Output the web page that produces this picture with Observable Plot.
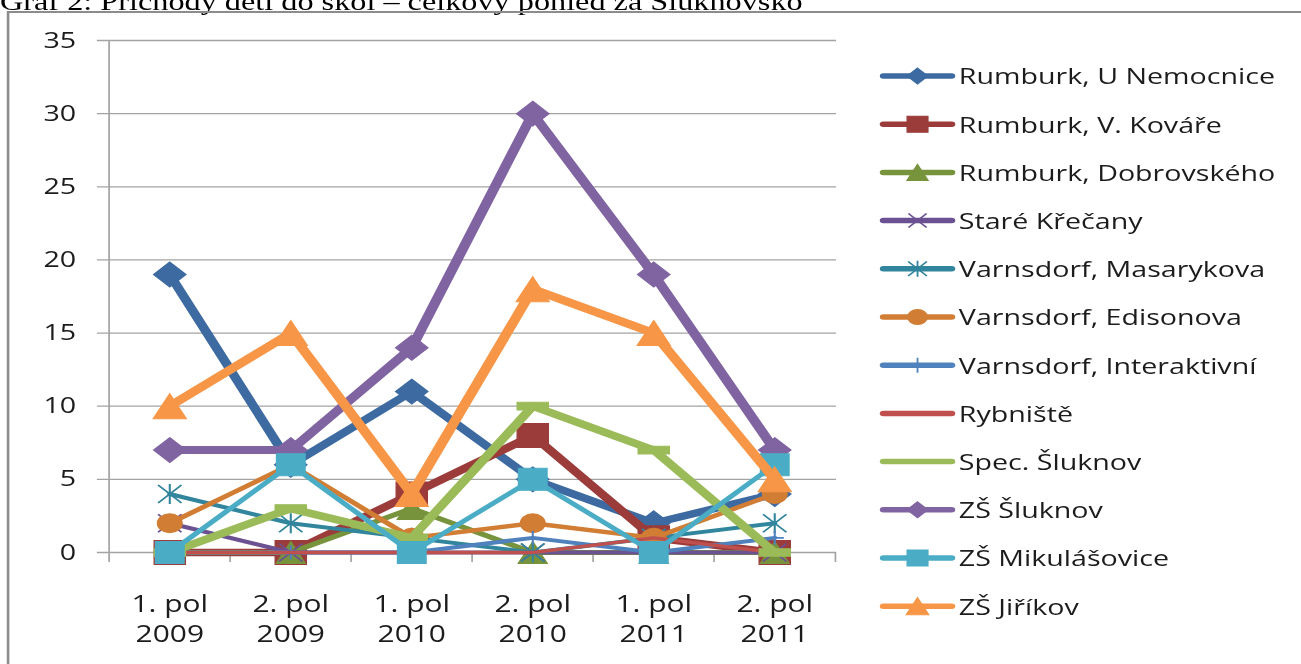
<!DOCTYPE html>
<html>
<head>
<meta charset="utf-8">
<script src="https://cdn.jsdelivr.net/npm/d3@7"></script>
<script src="https://cdn.jsdelivr.net/npm/@observablehq/plot@0.6"></script>
<style>
  html, body { margin: 0; padding: 0; background: #fff; width: 1301px; height: 664px; overflow: hidden; }
  #stage { position: absolute; left: 0; top: 0; width: 1000px; height: 664px; transform: scaleX(1.301); transform-origin: 0 0; }
  #stage > svg { position: absolute; left: 0; top: 0; }
</style>
</head>
<body>
<div id="stage"></div>
<script>
// ---------- data ----------
const periods = ["1. pol 2009", "2. pol 2009", "1. pol 2010", "2. pol 2010", "1. pol 2011", "2. pol 2011"];
const yTicks = [0, 5, 10, 15, 20, 25, 30, 35];
const seriesNames = ["Rumburk, U Nemocnice", "Rumburk, V. Kováře", "Rumburk, Dobrovského", "Staré Křečany",
  "Varnsdorf, Masarykova", "Varnsdorf, Edisonova", "Varnsdorf, Interaktivní", "Rybniště",
  "Spec. Šluknov", "ZŠ Šluknov", "ZŠ Mikulášovice", "ZŠ Jiříkov"];
const rumburkUNemocnice = [19, 6, 11, 5, 2, 4];
const rumburkVKovare = [0, 0, 4, 8, 1, 0];
const rumburkDobrovskeho = [0, 0, 3, 0, 0, 0];
const stareKrecany = [2, 0, 0, 0, 0, 0];
const varnsdorfMasarykova = [4, 2, 1, 0, 1, 2];
const varnsdorfEdisonova = [2, 6, 1, 2, 1, 4];
const varnsdorfInteraktivni = [0, 0, 0, 1, 0, 1];
const rybniste = [0, 0, 0, 0, 1, 0];
const specSluknov = [0, 3, 1, 10, 7, 0];
const zsSluknov = [7, 7, 14, 30, 19, 7];
const zsMikulasovice = [0, 6, 0, 5, 0, 6];
const zsJirikov = [10, 15, 4, 18, 15, 5];
const titleText = "Graf 2: Příchody dětí do škol – celkový pohled za Šluknovsko";

// ---------- styles ----------
const rOf = size => Math.sqrt(size / Math.PI);
const symDiamond = {draw(c, s) { const r = rOf(s); c.moveTo(0, -r); c.lineTo(r, 0); c.lineTo(0, r); c.lineTo(-r, 0); c.closePath(); }};
const symSquare = {draw(c, s) { const r = rOf(s); c.rect(-r, -r, 2 * r, 2 * r); }};
const symTriangle = {draw(c, s) { const r = rOf(s); c.moveTo(0, -r); c.lineTo(r * 1.02, r); c.lineTo(-r * 1.02, r); c.closePath(); }};
const symCircle = {draw(c, s) { const r = rOf(s); c.moveTo(r, 0); c.arc(0, 0, r, 0, 2 * Math.PI); }};
const symTimes = {draw(c, s) { const r = rOf(s); c.moveTo(-r, -r); c.lineTo(r, r); c.moveTo(-r, r); c.lineTo(r, -r); }};
const symStar = {draw(c, s) { const r = rOf(s), a = r * 0.9; c.moveTo(-a, -a); c.lineTo(a, a); c.moveTo(-a, a); c.lineTo(a, -a); c.moveTo(0, -r); c.lineTo(0, r); }};
const symPlus = {draw(c, s) { const r = rOf(s); c.moveTo(0, -r); c.lineTo(0, r); c.moveTo(-r, 0); c.lineTo(r, 0); }};
const symDash = {draw(c, s) { const r = rOf(s); c.rect(-r, -0.32 * r, 2 * r, 0.64 * r); }};

const seriesValues = [rumburkUNemocnice, rumburkVKovare, rumburkDobrovskeho, stareKrecany, varnsdorfMasarykova,
  varnsdorfEdisonova, varnsdorfInteraktivni, rybniste, specSluknov, zsSluknov, zsMikulasovice, zsJirikov];
const seriesColors = ["#3c6aa1", "#9b3c3a", "#77933c", "#6b5192", "#31859c", "#d17d34",
  "#4f81bd", "#c0504d", "#9bbb59", "#8064a2", "#4bacc6", "#f79646"];
const seriesWidths = [7.5, 7.5, 5, 4, 4, 4.5, 4, 3.5, 7.5, 8, 4.5, 8];
const seriesSymbols = [symDiamond, symSquare, symTriangle, symTimes, symStar, symCircle, symPlus, null, symDash, symDiamond, symSquare, symTriangle];
const seriesStrokeSymbol = [false, false, false, true, true, false, true, false, false, false, false, false];
const seriesMarkerR = [12.5, 12, 11, 9, 10, 9.5, 7, 0, 12, 12.5, 11, 12.5];
const legendMarkerR = [8, 8, 8, 7, 8, 7.5, 7.5, 0, 0, 8, 8, 8.5];

// ---------- layout ----------
const plotW = 660, plotH = 664;
const mL = 83, mR = plotW - 642.6, mT = 40, mB = 112;
const innerH = plotH - mT - mB;
const step = (plotW - mL - mR) / periods.length;
const gridColor = "#a3a3a3";
const textColor = "#1c1c1c";
const font = "'Open Sans', sans-serif";

const marks = [
  Plot.ruleY(yTicks, {stroke: gridColor, strokeWidth: 1.3, insetLeft: -8.5}),
  Plot.ruleX([periods[0]], {dx: -step / 2, stroke: gridColor, strokeWidth: 1.3}),
  Plot.ruleX(periods, {dx: -step / 2, insetTop: innerH, insetBottom: -10, stroke: gridColor, strokeWidth: 1.3}),
  Plot.ruleX([periods[periods.length - 1]], {dx: step / 2, insetTop: innerH, insetBottom: -10, stroke: gridColor, strokeWidth: 1.3}),
  Plot.axisY({ticks: yTicks, tickSize: 0, tickPadding: 25, fontSize: 22, label: null}),
  Plot.axisX({tickSize: 0, tickPadding: 38.7, fontSize: 23, lineHeight: 1.3, label: null,
    tickFormat: d => d.replace(" 20", "\n20")})
];

seriesNames.forEach((name, k) => {
  const rows = periods.map((p, i) => ({period: p, value: seriesValues[k][i]}));
  marks.push(Plot.line(rows, {x: "period", y: "value", stroke: seriesColors[k], strokeWidth: seriesWidths[k],
    strokeLinejoin: "round", strokeLinecap: "round"}));
  if (seriesSymbols[k]) {
    marks.push(Plot.dot(rows, {x: "period", y: "value", symbol: seriesSymbols[k], r: seriesMarkerR[k],
      fill: seriesStrokeSymbol[k] ? "none" : seriesColors[k],
      stroke: seriesColors[k], strokeWidth: seriesStrokeSymbol[k] ? 1.6 : 1}));
  }
});

const chart = Plot.plot({
  width: plotW, height: plotH,
  marginLeft: mL, marginRight: mR, marginTop: mT, marginBottom: mB,
  x: {type: "point", domain: periods, padding: 0.5},
  y: {domain: [0, 35]},
  style: {background: "transparent", color: textColor, fontFamily: font, overflow: "visible"},
  marks
});

const stage = document.getElementById("stage");
stage.appendChild(chart);

// ---------- overlay: title, frame, legend ----------
const overlay = d3.create("svg").attr("width", 1000).attr("height", 664)
  .style("overflow", "visible").style("background", "transparent");

overlay.append("text").attr("x", 0).attr("y", 10)
  .attr("font-family", "'Liberation Serif', 'Times New Roman', serif").attr("font-size", 24.8)
  .attr("fill", "#000").text(titleText);

overlay.append("rect").attr("x", 6.2).attr("y", 12).attr("width", 1000).attr("height", 700)
  .attr("fill", "none").attr("stroke", "#8c8c8c").attr("stroke-width", 2);

const lgX0 = 679, lgX1 = 731.5, lgTx = 737, lgY0 = 76, lgDy = 48.2;
const lg = overlay.append("g");
seriesNames.forEach((name, k) => {
  const cy = lgY0 + k * lgDy;
  const g = lg.append("g");
  g.append("line").attr("x1", lgX0).attr("x2", lgX1).attr("y1", cy).attr("y2", cy)
    .attr("stroke", seriesColors[k]).attr("stroke-width", 5.5).attr("stroke-linecap", "round");
  if (seriesSymbols[k] && legendMarkerR[k] > 0) {
    const rr = legendMarkerR[k];
    g.append("path").attr("transform", `translate(${(lgX0 + lgX1) / 2},${cy})`)
      .attr("d", d3.symbol(seriesSymbols[k], rr * rr * Math.PI)())
      .attr("fill", seriesStrokeSymbol[k] ? "none" : seriesColors[k])
      .attr("stroke", seriesColors[k]).attr("stroke-width", seriesStrokeSymbol[k] ? 1.4 : 1);
  }
  g.append("text").attr("x", lgTx).attr("y", cy + 8.5)
    .attr("font-family", font).attr("font-size", 22).attr("fill", textColor).text(name);
});

stage.appendChild(overlay.node());
</script>
</body>
</html>
